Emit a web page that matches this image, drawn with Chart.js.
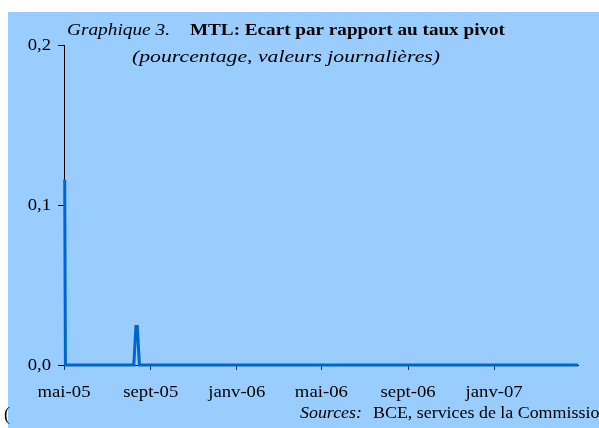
<!DOCTYPE html>
<html>
<head>
<meta charset="utf-8">
<script src="https://cdn.jsdelivr.net/npm/chart.js@4/dist/chart.umd.min.js"></script>
<style>
  html, body { margin: 0; padding: 0; background: #fff; }
  #wrap { width: 599px; height: 428px; position: relative; }
</style>
</head>
<body>
<div id="wrap"><canvas id="mtlChart" width="599" height="428"></canvas></div>
<script>
// jours depuis le 1er mai 2005
const jours = [1, 2, 99, 102, 104, 107, 729];
const ecart = [0.116, 0, 0, 0.024, 0.024, 0, 0];
const tickJours = [0, 123, 245, 365, 488, 610];
const tickLabels = ['mai-05', 'sept-05', 'janv-06', 'mai-06', 'sept-06', 'janv-07'];
const yTicks = [0, 0.1, 0.2];
const yLabels = ['0,0', '0,1', '0,2'];

const points = jours.map((j, i) => ({ x: j, y: ecart[i] }));

const SERIF = '"Liberation Serif", "Times New Roman", serif';
const STRETCH = 1.1; // le texte de l'original est un peu élargi

// texte élargi horizontalement; align: 'left' | 'center' | 'right'
function txt(c, s, x, y, font, align, sx) {
    c.save();
    c.font = font;
    const w = c.measureText(s).width * sx;
    let x0 = x;
    if (align === 'center') x0 = x - w / 2;
    if (align === 'right') x0 = x - w;
    c.translate(x0, y);
    c.scale(sx, 1);
    c.textAlign = 'left';
    c.textBaseline = 'alphabetic';
    c.fillText(s, 0, 0);
    c.restore();
}

// largeur visée -> facteur
function fit(c, s, font, width) {
    c.save();
    c.font = font;
    const k = width / c.measureText(s).width;
    c.restore();
    return k;
}

const decor = {
    id: 'decor',
    beforeDraw(chart) {
        const c = chart.ctx;
        c.save();
        c.fillStyle = '#fff';
        c.fillRect(0, 0, chart.width, chart.height);
        c.fillStyle = '#99CCFF';
        c.fillRect(8, 12, chart.width - 8, chart.height - 12);
        c.restore();
    },
    afterDraw(chart) {
        const c = chart.ctx;
        c.fillStyle = '#000';

        let f = 'italic 17px ' + SERIF;
        txt(c, 'Graphique 3.', 67, 35, f, 'left', fit(c, 'Graphique 3.', f, 103));
        f = 'bold 17px ' + SERIF;
        const t = 'MTL: Ecart par rapport au taux pivot';
        txt(c, t, 190, 35, f, 'left', fit(c, t, f, 315));
        f = 'italic 17px ' + SERIF;
        const st = '(pourcentage, valeurs journalières)';
        txt(c, st, 132, 62, f, 'left', fit(c, st, f, 308));

        f = 'italic 16px ' + SERIF;
        const k = fit(c, 'Sources:', f, 62);
        txt(c, 'Sources:', 300, 418, f, 'left', k);
        txt(c, 'BCE, services de la Commission', 373, 418, '16px ' + SERIF, 'left', k);
        txt(c, '(', 4, 420, '18px ' + SERIF, 'left', 1);

        // étiquettes des axes
        const xs = chart.scales.x, ys = chart.scales.y;
        const lf = '17px ' + SERIF;
        tickJours.forEach((v, i) => {
            txt(c, tickLabels[i], xs.getPixelForValue(v), 397, lf, 'center', STRETCH);
        });
        yTicks.forEach((v, i) => {
            txt(c, yLabels[i], 51, ys.getPixelForValue(v) + 5, lf, 'right', STRETCH);
        });
    }
};

new Chart(document.getElementById('mtlChart'), {
    type: 'line',
    data: {
        datasets: [{
            data: points,
            borderColor: '#0066CC',
            borderWidth: 3,
            pointRadius: 0,
            tension: 0,
            clip: false
        }]
    },
    options: {
        responsive: false,
        animation: false,
        layout: { padding: { left: 0, top: 45, right: 21, bottom: 0 } },
        plugins: { legend: { display: false }, tooltip: { enabled: false } },
        scales: {
            x: {
                type: 'linear',
                min: 0,
                max: 729,
                afterFit(s) { s.height = 63; },
                afterBuildTicks(s) { s.ticks = tickJours.map(v => ({ value: v })); },
                border: { display: true, color: '#000', width: 1 },
                grid: { drawOnChartArea: false, tickLength: 5, color: '#333' },
                ticks: { display: false }
            },
            y: {
                min: 0,
                max: 0.2,
                afterFit(s) { s.width = 64; },
                afterBuildTicks(s) { s.ticks = yTicks.map(v => ({ value: v })); },
                border: { display: true, color: '#000', width: 1 },
                grid: { drawOnChartArea: false, tickLength: 6, color: '#000' },
                ticks: { display: false }
            }
        }
    },
    plugins: [decor]
});
</script>
</body>
</html>
